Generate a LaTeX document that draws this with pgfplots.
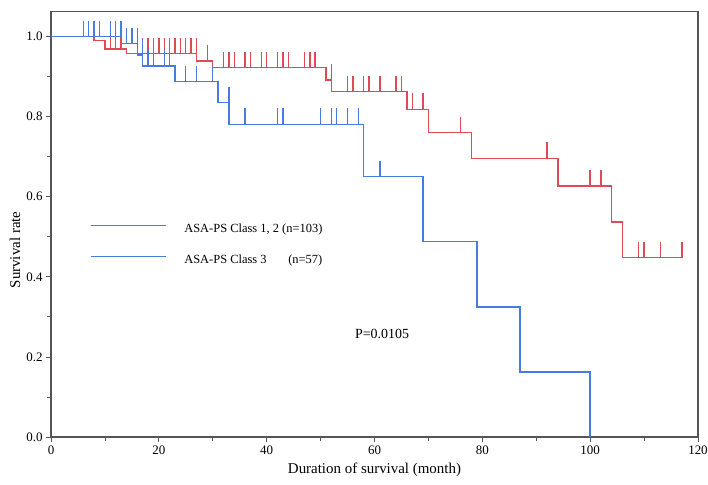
\documentclass[border=0pt]{standalone}
\usepackage{fontspec}
\setmainfont{Liberation Serif}
\usepackage{pgfplots}
\pgfplotsset{compat=1.18}

\definecolor{kmred}{RGB}{224,74,86}
\definecolor{kmblue}{RGB}{72,122,228}
\definecolor{axgray}{RGB}{85,85,85}

\pgfdeclareplotmark{cens}{\pgfpathmoveto{\pgfpointorigin}\pgfpathlineto{\pgfpoint{0pt}{16bp}}\pgfusepathqstroke}

\begin{document}
\begin{tikzpicture}
\begin{axis}[name=ax, at={(0,0)}, anchor=south west,
  scale only axis, width=647bp, height=425.3bp,
  xmin=0, xmax=120, ymin=0, ymax=1.062,
  xtick={0,20,40,60,80,100,120}, ytick={0,0.2,0.4,0.6,0.8,1},
  minor x tick num=1, minor y tick num=1,
  tick align=outside, xtick pos=left, ytick pos=left,
  major tick length=5bp, minor tick length=4bp,
  every tick/.style={axgray, line width=0.8bp},
  axis line style={axgray, line width=1.2bp},
  yticklabel style={/pgf/number format/fixed, /pgf/number format/fixed zerofill, /pgf/number format/precision=1},
  ticklabel style={font=\fontsize{13}{15}\selectfont},
  /pgf/number format/assume math mode=true,
  xlabel={Duration of survival (month)}, ylabel={Survival rate},
  every axis x label/.style={at={(axis description cs:0.5,0)}, anchor=center, yshift=-33bp, font=\fontsize{15}{18}\selectfont},
  every axis y label/.style={at={(axis description cs:0,0.44)}, anchor=center, rotate=90, yshift=36bp, font=\fontsize{15}{18}\selectfont},
  legend style={draw=none, fill=none, at={(axis description cs:0.060,0.452)}, anchor=west,
    inner sep=0pt, outer sep=0pt, row sep=19bp,
    nodes={inner sep=0pt, font=\fontsize{12.5}{14}\selectfont, text height=9bp, text depth=3bp},
    /tikz/every odd column/.style={column sep=18bp}},
  legend cell align=left,
  legend image code/.code={\draw[#1, line width=1.5bp] (0bp,4bp) -- (75bp,4bp);},
]
\addplot[kmred, line width=1.4bp, const plot, mark=none] coordinates {
 (0,1) (8,0.990) (10,0.969) (14,0.957) (27,0.939) (30,0.922) (51,0.891) (52,0.862)
 (66,0.818) (70,0.760) (78,0.696) (94,0.627) (104,0.537) (106,0.448) (117,0.448)};
\addlegendentry{ASA-PS Class 1, 2 (n=103)}
\addplot[kmred, line width=1.4bp, only marks, mark=cens, forget plot] coordinates {
 (6,1)
 (11,0.969) (12,0.969) (13,0.969)
 (17,0.957) (18,0.957) (19,0.957) (20,0.957) (21,0.957) (22,0.957) (23,0.957) (24,0.957) (25,0.957) (26,0.957) (27,0.957)
 (29,0.939)
 (32,0.922) (33,0.922) (34,0.922) (36,0.922) (37,0.922) (39,0.922) (40,0.922) (42,0.922) (43,0.922) (44,0.922) (47,0.922) (48,0.922) (49,0.922)
 (52,0.891)
 (55,0.862) (56,0.862) (58,0.862) (59,0.862) (61,0.862) (64,0.862) (65,0.862)
 (67,0.818) (69,0.818)
 (76,0.760)
 (92,0.696)
 (100,0.627) (102,0.627)
 (109,0.448) (110,0.448) (113,0.448) (117,0.448)};
\addplot[kmblue, line width=1.4bp, const plot, mark=none] coordinates {
 (0,1) (13,0.982) (16,0.954) (17,0.926) (23,0.887) (31,0.835) (33,0.781) (58,0.650)
 (69,0.4875) (79,0.325) (87,0.1625) (100,0)};
\addlegendentry{\makebox[104bp][l]{ASA-PS Class 3}(n=57)}
\addplot[kmblue, line width=1.4bp, only marks, mark=cens, forget plot] coordinates {
 (7,1) (8,1) (9,1) (11,1) (12,1) (13,1)
 (14,0.982) (15,0.982) (16,0.982)
 (17,0.954)
 (18,0.926) (19,0.926) (21,0.926) (22,0.926)
 (25,0.887) (27,0.887) (30,0.887)
 (33,0.835)
 (36,0.781) (42,0.781) (43,0.781) (50,0.781) (52,0.781) (53,0.781) (55,0.781) (57,0.781)
 (61,0.650)};
\node[font=\fontsize{14}{16}\selectfont] at (axis cs:61.4,0.257) {P=0.0105};
\end{axis}
\pgfresetboundingbox
\path ([shift={(-51bp,-48bp)}]ax.south west) rectangle ([shift={(10bp,11.7bp)}]ax.north east);
\end{tikzpicture}
\end{document}
